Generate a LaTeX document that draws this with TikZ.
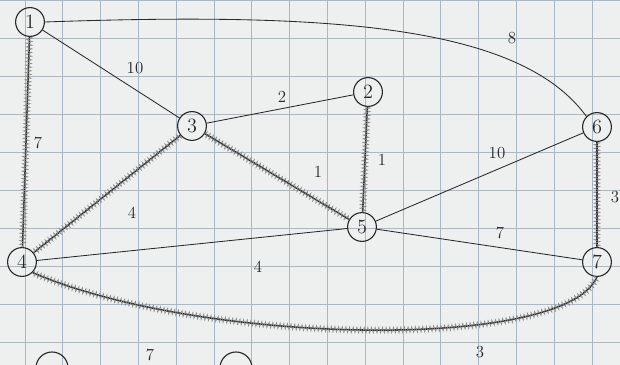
\documentclass[tikz,border=0pt]{standalone}
\usepackage{tikz}
\usepackage{xcolor}
\usetikzlibrary{calc,decorations.pathmorphing}
\definecolor{paperWhite}{RGB}{238,240,240}
\definecolor{gridBlue}{RGB}{168,184,200}
\definecolor{penGray}{RGB}{40,40,40}
\definecolor{hatchGray}{RGB}{140,140,140}

\begin{document}
\begin{tikzpicture}[x=0.025cm,y=-0.025cm,
  vertex/.style={circle,draw=penGray,line width=0.8pt,minimum size=0.72cm,inner sep=0pt,font=\Large,text=penGray},
  edge/.style={draw=penGray,line width=0.6pt},
  treeedge/.style={draw=penGray,line width=1.1pt,postaction={draw=hatchGray,line width=0.4pt,decorate,decoration={zigzag,segment length=2.6pt,amplitude=2.2pt}}},
  weight/.style={font=\large,text=penGray}]
\useasboundingbox (0,0) rectangle (620,365);
\clip (0,0) rectangle (620,365);
\fill[paperWhite] (0,0) rectangle (620,365);
% graph paper
\foreach \gx in {25,62.8,...,620} \draw[gridBlue,line width=0.6pt] (\gx,0) -- (\gx,365);
\foreach \gy in {0,38,...,365} \draw[gridBlue,line width=0.6pt] (0,\gy) -- (620,\gy);
% vertices
\node[vertex] (v1) at (30,22) {1};
\node[vertex] (v2) at (368,92) {2};
\node[vertex] (v3) at (192,126) {3};
\node[vertex] (v4) at (22,262) {4};
\node[vertex] (v5) at (362,227) {5};
\node[vertex] (v6) at (597,127) {6};
\node[vertex] (v7) at (597,262) {7};
% plain edges
\draw[edge] (v1.east) .. controls (330,12) and (520,25) .. (v6.north west);
\draw[edge] (v1) -- (v3);
\draw[edge] (v3) -- (v2);
\draw[edge] (v5) -- (v6);
\draw[edge] (v5) -- (v7);
\draw[edge] (v4) -- (v5);
% chosen edges
\draw[treeedge] (v1) -- (v4);
\draw[treeedge] (v3) -- (v4);
\draw[treeedge] (v3) -- (v5);
\draw[treeedge] (v2) -- (v5);
\draw[treeedge] (v6) -- (v7);
\draw[treeedge] (v4.south east) .. controls (200,345) and (565,352) .. (v7.south);
% weights
\node[weight] (w16) at (512,38) {8};
\node[weight] (w13) at (135,68) {10};
\node[weight] (w14) at (38,143) {7};
\node[weight] (w32) at (282,97) {2};
\node[weight] (w35) at (318,172) {1};
\node[weight] (w25) at (382,160) {1};
\node[weight] (w34) at (132,213) {4};
\node[weight] (w45) at (258,267) {4};
\node[weight] (w56) at (497,153) {10};
\node[weight] (w57) at (500,233) {7};
\node[weight] (w67) at (615,197) {3};
\node[weight] (w47) at (480,352) {3};
% next drawing, cut off at the bottom
\draw[penGray,line width=0.8pt] (52,368) circle (16);
\draw[penGray,line width=0.8pt] (236,368) circle (16);
\node[weight] (wlow) at (150,355) {7};
\end{tikzpicture}
\end{document}
